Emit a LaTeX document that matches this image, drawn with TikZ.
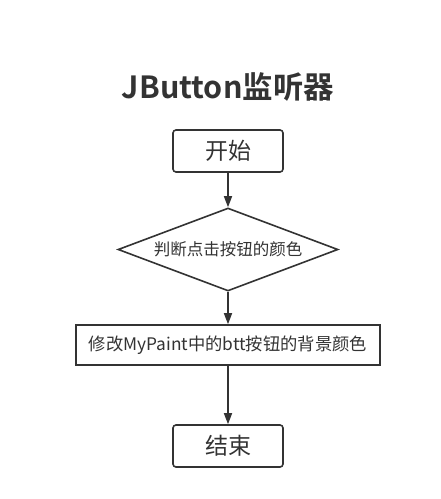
\documentclass[tikz,border=0pt]{standalone}
\usepackage{fontspec}
\setmainfont{Noto Sans CJK SC}[BoldFont={Noto Sans CJK SC Bold}]
\usetikzlibrary{shapes,shapes.geometric,arrows.meta}
\definecolor{linegray}{HTML}{333333}
\tikzset{
  flownode/.style = {align=center, inner sep=0pt, text centered, draw=linegray, line width=1.6pt, text=linegray},
  flow_t/.style = {flownode, rounded corners=3pt, minimum width=110pt, minimum height=42pt, font=\fontsize{23}{26}\selectfont},
  flow_d/.style = {flownode, diamond, aspect=2.65, minimum width=220pt, minimum height=83pt, font=\fontsize{16.5}{19}\selectfont},
  flow_p/.style = {flownode, minimum width=304pt, minimum height=40pt, font=\fontsize{17.3}{20}\selectfont},
  flow_a/.style = {draw=linegray, line width=1.6pt, -{Triangle[length=11pt,width=8pt]}}
}
\begin{document}
\begin{tikzpicture}[x=1pt,y=-1pt]
\useasboundingbox (0,0) rectangle (440,499);
\node [font=\bfseries\fontsize{30.5}{34}\selectfont, text=linegray] (title) at (228,87) {JButton监听器};
\node [flow_t] (start) at (228,151) {开始};
\node [flow_d] (check) at (228,249.5) {判断点击按钮的颜色};
\node [flow_p] (change) at (228,345) {修改MyPaint中的btt按钮的背景颜色};
\node [flow_t] (stop) at (228,446) {结束};
\draw [flow_a] (start) -- (check);
\draw [flow_a] (check) -- (change);
\draw [flow_a] (change) -- (stop);
\end{tikzpicture}
\end{document}
